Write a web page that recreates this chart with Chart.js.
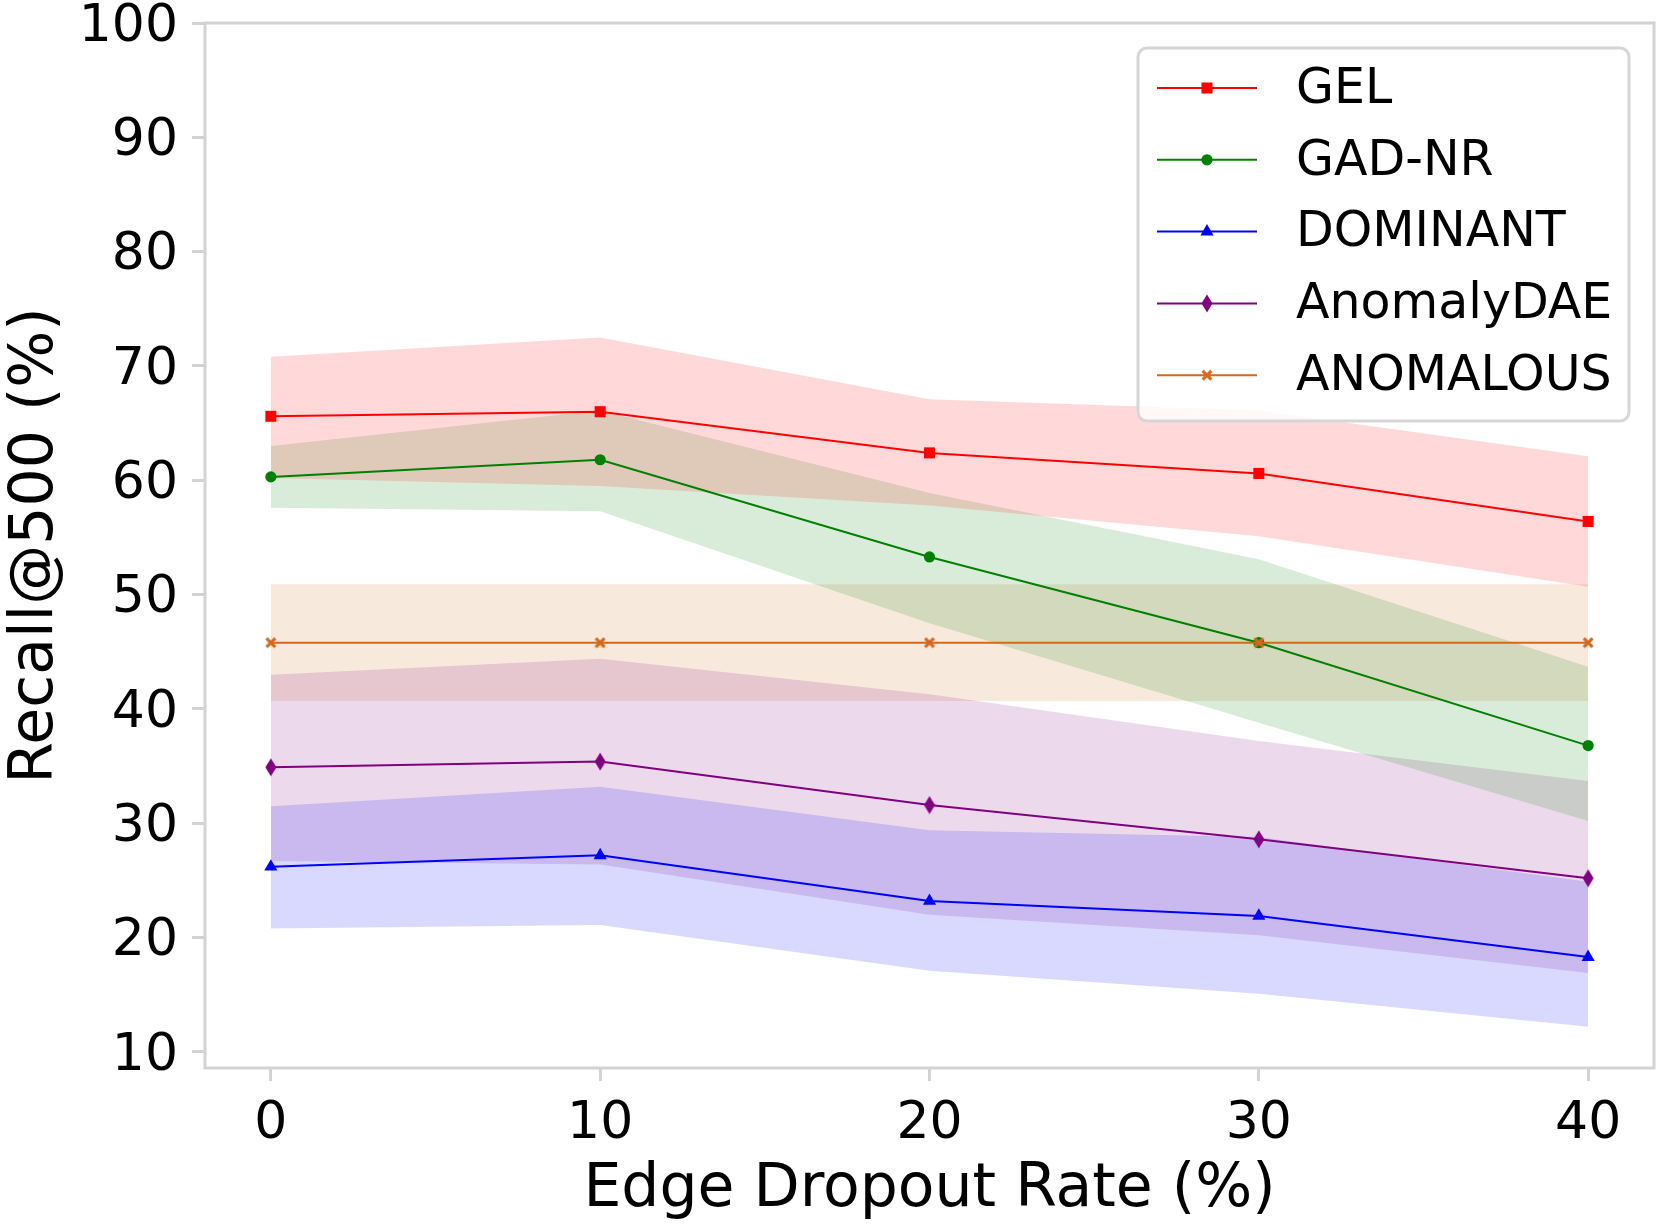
<!DOCTYPE html>
<html>
<head>
<meta charset="utf-8">
<script src="https://cdn.jsdelivr.net/npm/chart.js@4"></script>
<style>
  html, body { margin: 0; padding: 0; background: #ffffff; }
  #wrap { width: 1662px; height: 1227px; }
</style>
</head>
<body>
<div id="wrap"><canvas id="c" width="1662" height="1227"></canvas></div>
<script>
// ---------------- data ----------------
const dropoutRates = [0, 10, 20, 30, 40];
const xTicks = [0, 10, 20, 30, 40];
const yTicks = [10, 20, 30, 40, 50, 60, 70, 80, 90, 100];

const seriesNames = ['GEL', 'GAD-NR', 'DOMINANT', 'AnomalyDAE', 'ANOMALOUS'];

const gelMean  = [65.6, 66.0, 62.4, 60.6, 56.4];
const gelUpper = [70.8, 72.5, 67.1, 66.1, 62.1];
const gelLower = [60.2, 59.5, 57.8, 55.1, 50.7];

const gadMean  = [60.3, 61.8, 53.3, 45.8, 36.8];
const gadUpper = [63.0, 66.1, 58.9, 53.1, 43.7];
const gadLower = [57.6, 57.3, 47.5, 38.8, 30.2];

const domMean  = [26.2, 27.2, 23.2, 21.9, 18.3];
const domUpper = [31.5, 33.2, 29.4, 28.8, 24.9];
const domLower = [20.8, 21.1, 17.1, 15.1, 12.2];

const daeMean  = [34.9, 35.4, 31.6, 28.6, 25.2];
const daeUpper = [43.0, 44.4, 41.3, 37.2, 33.7];
const daeLower = [26.7, 26.4, 22.0, 20.2, 16.9];

const anomMean  = [45.8, 45.8, 45.8, 45.8, 45.8];
const anomUpper = [50.9, 50.9, 50.9, 50.9, 50.9];
const anomLower = [40.7, 40.7, 40.7, 40.7, 40.7];

// ---------------- styling ----------------
const FONT = "'DejaVu Sans', sans-serif";
const AXIS_GRAY = '#d3d3d3';

function thinDiamond(color) {
  const c = document.createElement('canvas');
  c.width = 12; c.height = 19;
  const g = c.getContext('2d');
  g.fillStyle = color;
  g.beginPath();
  g.moveTo(6, 0.5); g.lineTo(11.5, 9.5); g.lineTo(6, 18.5); g.lineTo(0.5, 9.5);
  g.closePath(); g.fill();
  return c;
}
function filledX(color) {
  const c = document.createElement('canvas');
  c.width = 12; c.height = 12;
  const g = c.getContext('2d');
  g.fillStyle = color;
  const s = 12, t = 2.2, m = 6;
  g.beginPath();
  g.moveTo(0.5, 0.5 + t); g.lineTo(0.5 + t, 0.5); g.lineTo(m, m - t);
  g.lineTo(s - 0.5 - t, 0.5); g.lineTo(s - 0.5, 0.5 + t); g.lineTo(m + t, m);
  g.lineTo(s - 0.5, s - 0.5 - t); g.lineTo(s - 0.5 - t, s - 0.5); g.lineTo(m, m + t);
  g.lineTo(0.5 + t, s - 0.5); g.lineTo(0.5, s - 0.5 - t); g.lineTo(m - t, m);
  g.closePath(); g.fill();
  return c;
}

const styles = [
  { color: '#ff0000', fill: 'rgba(255,0,0,0.15)',   point: 'rect',     radius: 7.8 },
  { color: '#008000', fill: 'rgba(0,128,0,0.15)',   point: 'circle',   radius: 5.6 },
  { color: '#0000ff', fill: 'rgba(0,0,255,0.15)',   point: 'triangle', radius: 7.6 },
  { color: '#800080', fill: 'rgba(128,0,128,0.15)', point: thinDiamond('#800080'), radius: 8 },
  { color: '#d2691e', fill: 'rgba(210,105,30,0.15)', point: filledX('#d2691e'), radius: 6 }
];

const means  = [gelMean, gadMean, domMean, daeMean, anomMean];
const uppers = [gelUpper, gadUpper, domUpper, daeUpper, anomUpper];
const lowers = [gelLower, gadLower, domLower, daeLower, anomLower];

const pts = arr => arr.map((v, i) => ({ x: dropoutRates[i], y: v }));

const datasets = [];
// bands
for (let k = 0; k < seriesNames.length; k++) {
  datasets.push({
    label: seriesNames[k] + ' upper', isBand: true,
    data: pts(uppers[k]), borderWidth: 0, pointRadius: 0, showLine: true,
    borderColor: 'rgba(0,0,0,0)', backgroundColor: styles[k].fill, fill: false, order: 20
  });
  datasets.push({
    label: seriesNames[k] + ' lower', isBand: true,
    data: pts(lowers[k]), borderWidth: 0, pointRadius: 0, showLine: true,
    borderColor: 'rgba(0,0,0,0)', backgroundColor: styles[k].fill, fill: '-1', order: 20
  });
}
// mean lines
for (let k = 0; k < seriesNames.length; k++) {
  datasets.push({
    label: seriesNames[k], isBand: false, styleIndex: k,
    data: pts(means[k]), borderColor: styles[k].color, backgroundColor: styles[k].color,
    borderWidth: 2, pointStyle: styles[k].point, pointRadius: styles[k].radius,
    pointBorderWidth: 0, pointBackgroundColor: styles[k].color, pointBorderColor: styles[k].color,
    fill: false, tension: 0, order: 10 - k
  });
}

// ---------------- plugins ----------------
const framePlugin = {
  id: 'frame',
  afterDatasetsDraw(chart) {
    const a = chart.chartArea, ctx = chart.ctx;
    ctx.save();
    ctx.strokeStyle = AXIS_GRAY;
    ctx.lineWidth = 3;
    ctx.strokeRect(a.left, a.top, a.right - a.left, a.bottom - a.top);
    ctx.restore();
  }
};

const legendPlugin = {
  id: 'mplLegend',
  afterDraw(chart) {
    const a = chart.chartArea, ctx = chart.ctx;
    const w = 491, h = 373;
    const x0 = a.right - 25 - w, y0 = a.top + 25;
    ctx.save();
    const r = 9;
    ctx.beginPath();
    ctx.moveTo(x0 + r, y0);
    ctx.arcTo(x0 + w, y0, x0 + w, y0 + h, r);
    ctx.arcTo(x0 + w, y0 + h, x0, y0 + h, r);
    ctx.arcTo(x0, y0 + h, x0, y0, r);
    ctx.arcTo(x0, y0, x0 + w, y0, r);
    ctx.closePath();
    ctx.fillStyle = 'rgba(255,255,255,0.8)';
    ctx.fill();
    ctx.strokeStyle = '#d6d6d6';
    ctx.lineWidth = 3;
    ctx.stroke();
    const mains = chart.data.datasets.filter(d => !d.isBand);
    mains.forEach((d, i) => {
      const cy = y0 + 40 + i * 71.8;
      ctx.strokeStyle = d.borderColor;
      ctx.lineWidth = 2;
      ctx.beginPath();
      ctx.moveTo(x0 + 19, cy); ctx.lineTo(x0 + 119, cy);
      ctx.stroke();
      ctx.fillStyle = d.borderColor;
      Chart.helpers.drawPoint(ctx, { pointStyle: d.pointStyle, radius: d.pointRadius, rotation: 0, borderWidth: 0 }, x0 + 69, cy);
      ctx.fillStyle = '#000000';
      ctx.font = '49px ' + FONT;
      ctx.textAlign = 'left';
      ctx.textBaseline = 'middle';
      ctx.fillText(d.label, x0 + 158, cy + 2);
    });
    ctx.restore();
  }
};

// ---------------- chart ----------------
new Chart(document.getElementById('c'), {
  type: 'line',
  data: { datasets },
  options: {
    responsive: false,
    animation: false,
    devicePixelRatio: 1,
    layout: { padding: { top: 23, right: 8, bottom: 0, left: 0 } },
    plugins: {
      legend: { display: false },
      tooltip: { enabled: false },
      filler: { propagate: false }
    },
    elements: { line: { tension: 0 } },
    scales: {
      x: {
        type: 'linear', min: -2, max: 42,
        afterBuildTicks(scale) { scale.ticks = xTicks.map(v => ({ value: v })); },
        afterFit(scale) { scale.height = 1227 - 1068; scale.paddingLeft = 0; scale.paddingRight = 0; },
        grid: { display: true, drawOnChartArea: false, drawTicks: true, tickLength: 13, tickWidth: 3, tickColor: AXIS_GRAY, color: AXIS_GRAY },
        border: { display: false },
        ticks: { color: '#000000', font: { family: FONT, size: 52 }, padding: 12, maxRotation: 0, autoSkip: false },
        title: { display: true, text: 'Edge Dropout Rate (%)', color: '#000000', font: { family: FONT, size: 60 }, padding: { top: 0, bottom: 1 } }
      },
      y: {
        type: 'linear', min: 8.6, max: 100,
        afterBuildTicks(scale) { scale.ticks = yTicks.map(v => ({ value: v })); },
        afterFit(scale) { scale.width = 205; scale.paddingTop = 0; scale.paddingBottom = 0; },
        grid: { display: true, drawOnChartArea: false, drawTicks: true, tickLength: 13, tickWidth: 3, tickColor: AXIS_GRAY, color: AXIS_GRAY },
        border: { display: false },
        ticks: { color: '#000000', font: { family: FONT, size: 52 }, padding: 14, labelOffset: 4, autoSkip: false },
        title: { display: true, text: 'Recall@500 (%)', color: '#000000', font: { family: FONT, size: 60, lineHeight: 1.1 }, padding: { top: 3, bottom: 0 } }
      }
    }
  },
  plugins: [framePlugin, legendPlugin]
});
</script>
</body>
</html>
